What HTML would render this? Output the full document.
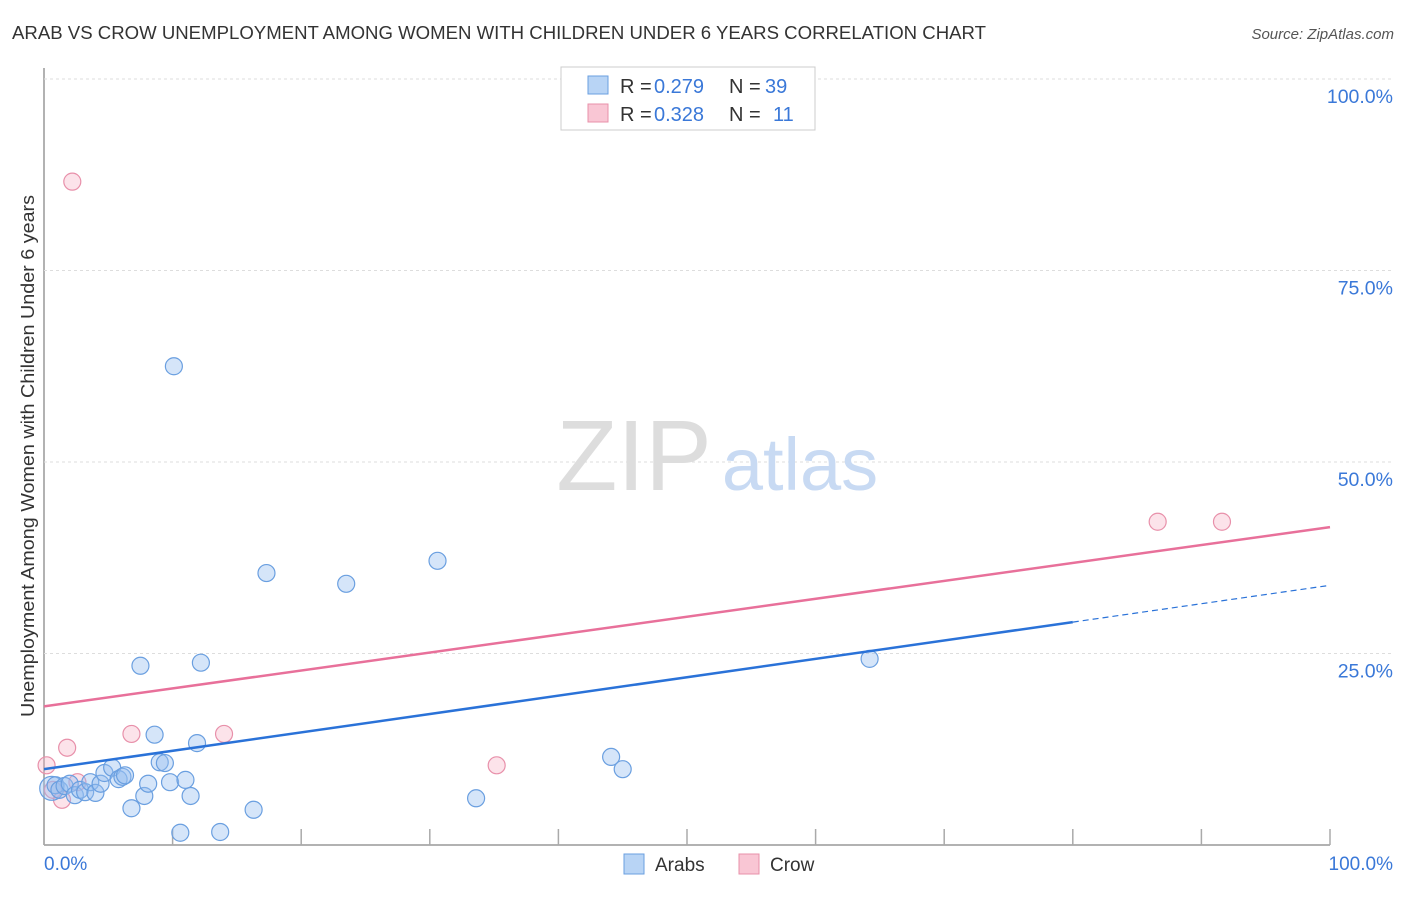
<!DOCTYPE html>
<html><head><meta charset="utf-8"><style>
body{margin:0;background:#fff;font-family:"Liberation Sans",sans-serif;}
svg text{font-family:"Liberation Sans",sans-serif;}
</style></head><body>
<svg width="1406" height="892" xmlns="http://www.w3.org/2000/svg">
<text x="12" y="39" font-size="18" fill="#333" textLength="974" lengthAdjust="spacingAndGlyphs">ARAB VS CROW UNEMPLOYMENT AMONG WOMEN WITH CHILDREN UNDER 6 YEARS CORRELATION CHART</text>
<text x="1394" y="39" font-size="15" fill="#555" font-style="italic" text-anchor="end">Source: ZipAtlas.com</text>
<g id="grid"></g>
<text x="634" y="490" font-size="100" fill="#ddd" font-family="Liberation Serif" text-anchor="middle">ZIP</text>
<text x="800" y="490" font-size="74" fill="#c8daf3" text-anchor="middle">atlas</text>
<g id="marks"></g>
<g>
<rect x="561" y="67" width="254" height="63" fill="#fff" stroke="#ccc"/>
<rect x="588" y="76" width="20" height="18" fill="#b8d4f5" stroke="#6a9fe0"/>
<rect x="588" y="104" width="20" height="18" fill="#f9c6d4" stroke="#e890aa"/>
<text x="620" y="93" font-size="20" fill="#333">R =</text>
<text x="654" y="93" font-size="20" fill="#3a78d8">0.279</text>
<text x="729" y="93" font-size="20" fill="#333">N =</text>
<text x="765" y="93" font-size="20" fill="#3a78d8">39</text>
<text x="620" y="121" font-size="20" fill="#333">R =</text>
<text x="654" y="121" font-size="20" fill="#3a78d8">0.328</text>
<text x="729" y="121" font-size="20" fill="#333">N =</text>
<text x="773" y="121" font-size="20" fill="#3a78d8">11</text>
</g>
<text transform="translate(34,456) rotate(-90)" font-size="18" fill="#333" text-anchor="middle" textLength="522" lengthAdjust="spacingAndGlyphs">Unemployment Among Women with Children Under 6 years</text>
<text x="44" y="870" font-size="19" fill="#3a78d8">0.0%</text>
<text x="1393" y="870" font-size="19" fill="#3a78d8" text-anchor="end">100.0%</text>
<g>
<rect x="624" y="854" width="20" height="20" fill="#b8d4f5" stroke="#6a9fe0"/>
<text x="655" y="871" font-size="19" fill="#333">Arabs</text>
<rect x="739" y="854" width="20" height="20" fill="#f9c6d4" stroke="#e890aa"/>
<text x="770" y="871" font-size="19" fill="#333">Crow</text>
</g>
</svg>
<script>
const yTicks=[25,50,75,100];
const yTickLabels=["25.0%","50.0%","75.0%","100.0%"];
const xTicks=[0,10,20,30,40,50,60,70,80,90,100];
const arabX=[0.6,0.9,1.2,1.6,2.0,2.4,2.8,3.2,3.6,4.0,4.4,4.7,5.3,5.8,6.1,6.3,6.8,7.5,7.8,8.1,8.6,9.0,9.4,9.8,10.1,10.6,11.0,11.4,11.9,12.2,13.7,16.3,17.3,23.5,30.6,33.6,44.1,45.0,64.2];
const arabY=[7.4,7.8,7.2,7.7,8.0,6.5,7.2,6.9,8.2,6.8,8.0,9.4,10.1,8.6,8.9,9.1,4.8,23.4,6.4,8.0,14.4,10.8,10.7,8.2,62.5,1.6,8.5,6.4,13.3,23.8,1.7,4.6,35.5,34.1,37.1,6.1,11.5,9.9,24.3];
const crowX=[0.2,0.7,1.4,1.8,2.2,2.6,6.8,14.0,35.2,86.6,91.6];
const crowY=[10.4,7.2,5.9,12.7,86.6,8.2,14.5,14.5,10.4,42.2,42.2];
const arabTrend=[9.9,33.9];
const crowTrend=[18.1,41.5];
const NS="http://www.w3.org/2000/svg";
function sx(v){return 44+v*12.86;}
function sy(v){return 845-v*7.66;}
function mk(tag,attrs,parent){const e=document.createElementNS(NS,tag);for(const k in attrs)e.setAttribute(k,attrs[k]);parent.appendChild(e);return e;}
const grid=document.getElementById('grid');
const marks=document.getElementById('marks');
const ax=mk('line',{x1:44,y1:68,x2:44,y2:845,stroke:'#999','stroke-width':1.5},grid);


const bx=mk('line',{x1:44,y1:845,x2:1330,y2:845,stroke:'#999','stroke-width':1.5},grid);


yTicks.forEach((t,i)=>{
 const g=mk('line',{x1:44,y1:sy(t),x2:1394,y2:sy(t),stroke:'#ddd','stroke-dasharray':'3,3'},grid);
 
 
 const l=mk('text',{x:1393,y:sy(t)+24,'font-size':19.5,fill:'#3a78d8','text-anchor':'end'},grid);
 l.textContent=yTickLabels[i];
 
 
});
xTicks.forEach(t=>{
 const k=mk('line',{x1:sx(t),y1:829,x2:sx(t),y2:845,stroke:'#aaa','stroke-width':1.5},grid);
 
 
});
crowX.forEach((x,i)=>{
 const c=mk('circle',{cx:sx(x),cy:sy(crowY[i]),r:8.5,fill:'rgba(245,175,195,0.35)',stroke:'#e890aa','stroke-width':1.2},marks);
 
 
});
arabX.forEach((x,i)=>{
 const c=mk('circle',{cx:sx(x),cy:sy(arabY[i]),r:i==0?12:8.5,fill:'rgba(150,190,240,0.4)',stroke:'#6a9fe0','stroke-width':1.2},marks);
 
 
});
const at=(v)=>arabTrend[0]+(arabTrend[1]-arabTrend[0])*v/100;
const l1=mk('line',{x1:sx(0),y1:sy(at(0)),x2:sx(80),y2:sy(at(80)),stroke:'#2a72d8','stroke-width':2.5},marks);


const l2=mk('line',{x1:sx(80),y1:sy(at(80)),x2:sx(100),y2:sy(at(100)),stroke:'#2a72d8','stroke-width':1.2,'stroke-dasharray':'6,4'},marks);


const l3=mk('line',{x1:sx(0),y1:sy(crowTrend[0]),x2:sx(100),y2:sy(crowTrend[1]),stroke:'#e8709a','stroke-width':2.5},marks);


</script>
</body></html>
